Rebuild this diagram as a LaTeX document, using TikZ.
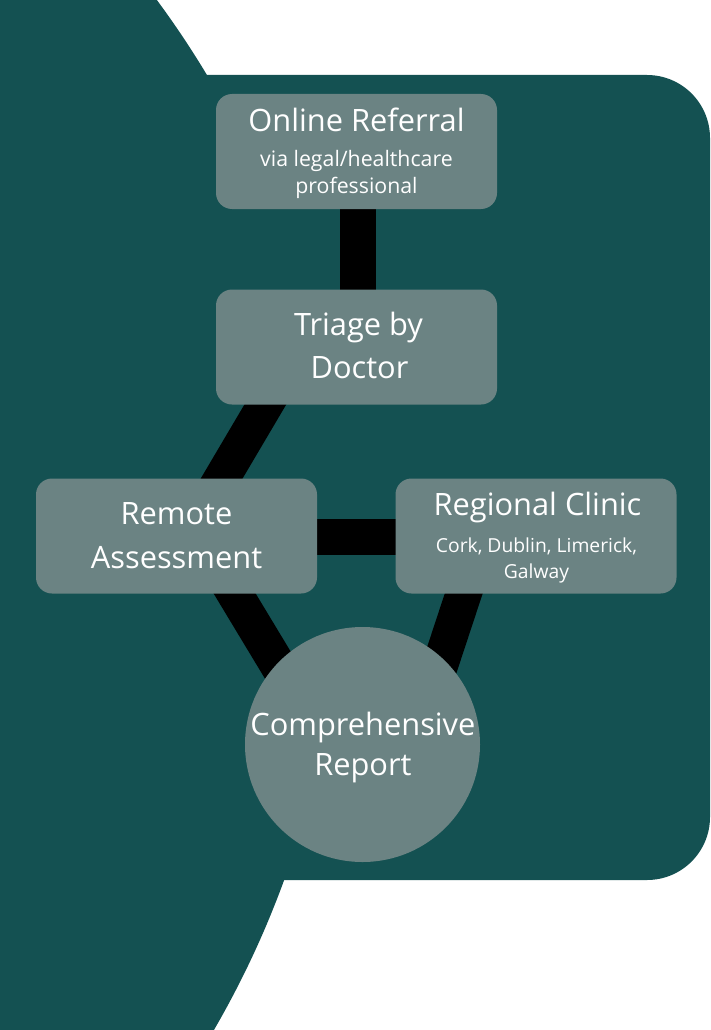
\documentclass[tikz,border=0pt]{standalone}
\usepackage{fontspec}
\setmainfont{Open Sans}
\usetikzlibrary{calc}
\definecolor{tealbg}{HTML}{145152}
\definecolor{boxgrey}{HTML}{6B8383}
\pgfdeclarelayer{bglayer}
\pgfdeclarelayer{linklayer}
\pgfsetlayers{bglayer,linklayer,main}
\begin{document}
\begin{tikzpicture}[x=1pt,y=-1pt,
  box/.style={fill=boxgrey, rounded corners=16pt, minimum width=281pt, minimum height=115pt, inner sep=0pt},
  disc/.style={circle, fill=boxgrey, minimum size=235pt, inner sep=0pt},
  ttl/.style={anchor=base, inner sep=0pt, text=white, font=\fontsize{30.8}{36}\selectfont},
  subt/.style={anchor=base, inner sep=0pt, text=white, font=\fontsize{19.3}{24}\selectfont},
  subtbig/.style={subt, font=\fontsize{21.3}{26}\selectfont},
  link/.style={draw=black, line width=36pt}]
\useasboundingbox (0,0) rectangle (710,1030);
\begin{pgfonlayer}{bglayer}
  \fill[white] (0,0) rectangle (710,1030);
  \begin{scope}
    \clip (0,0) rectangle (710,1030);
    \fill[tealbg] (-599.4,558.4) circle[radius=940pt];
  \end{scope}
  \fill[tealbg, rounded corners=63pt] (100,75) rectangle (710,880);
\end{pgfonlayer}

\node[box] (online) at (356.5,151.5) {};
\node[box] (triage) at (356.5,347) {};
\node[box] (remote) at (176.5,536) {};
\node[box] (regional) at (536,536) {};
\node[disc] (report) at (362.5,744.5) {};

\node[ttl] (onlineT) at ($(online)+(0,-20.2)$) {Online Referral};
\node[subtbig] (onlineS1) at ($(online)+(0,15.2)$) {via legal/healthcare};
\node[subtbig] (onlineS2) at ($(online)+(0,41.8)$) {professional};

\node[ttl] (triageT1) at ($(triage)+(2,-12)$) {Triage by};
\node[ttl] (triageT2) at ($(triage)+(3,31.3)$) {Doctor};

\node[ttl] (remoteT1) at ($(remote)+(0,-11.3)$) {Remote};
\node[ttl] (remoteT2) at ($(remote)+(0,32)$) {Assessment};

\node[ttl] (regionalT) at ($(regional)+(1.5,-21)$) {Regional Clinic};
\node[subt] (regionalS1) at ($(regional)+(0.5,16.7)$) {Cork, Dublin, Limerick,};
\node[subt] (regionalS2) at ($(regional)+(0.5,42.3)$) {Galway};

\node[ttl] (reportT1) at ($(report)+(0.4,-9.5)$) {Comprehensive};
\node[ttl] (reportT2) at ($(report)+(0.4,30.5)$) {Report};

\begin{pgfonlayer}{linklayer}
  \draw[link] ($(online.south)+(1,-10)$) -- ($(triage.north)+(1,10)$);
  \draw[link] ($(triage.south)+(-82.7,-14.5)$) -- ($(remote.north)+(37.3,13.5)$);
  \draw[link] ($(remote.east)+(-10,1)$) -- ($(regional.west)+(10,1)$);
  \draw[link] ($(remote.south)+(50.1,-13.5)$) -- ($(report.center)+(-63.6,-44.5)$);
  \draw[link] ($(regional.south)+(-67.9,-13.5)$) -- ($(report.center)+(66.1,-44.5)$);
\end{pgfonlayer}
\end{tikzpicture}
\end{document}
